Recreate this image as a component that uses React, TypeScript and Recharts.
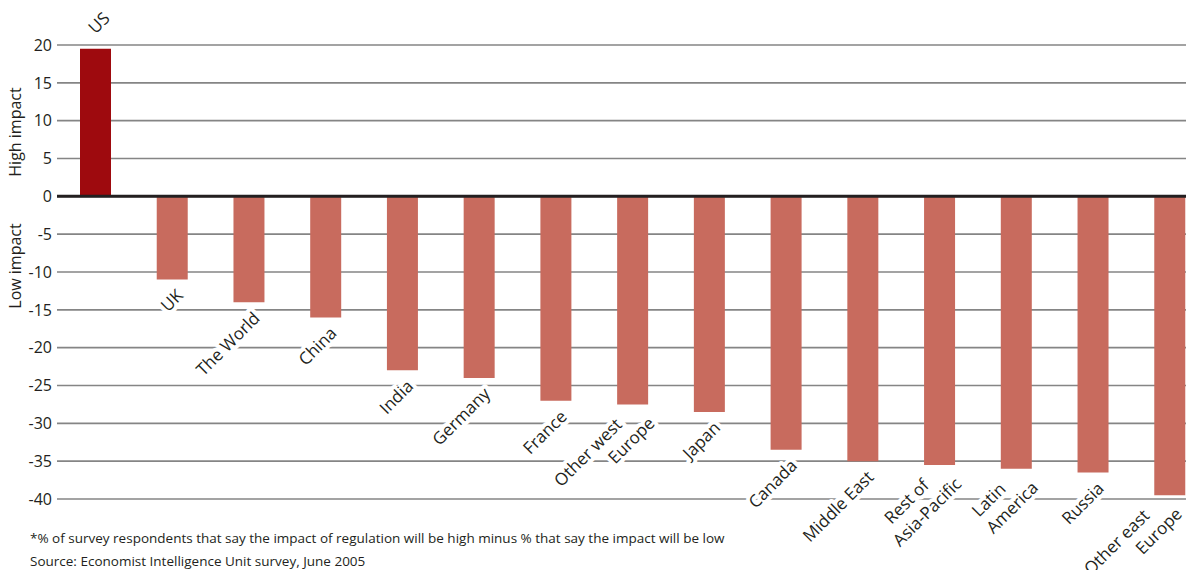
import React from "react";
import { BarChart, Bar, XAxis, YAxis, CartesianGrid, ReferenceLine, LabelList, Cell } from "recharts";

const categories = [
  "US", "UK", "The World", "China", "India", "Germany", "France", "Other west\nEurope",
  "Japan", "Canada", "Middle East", "Rest of\nAsia-Pacific", "Latin\nAmerica", "Russia", "Other east\nEurope",
];
const values = [19.5, -11, -14, -16, -23, -24, -27, -27.5, -28.5, -33.5, -35, -35.5, -36, -36.5, -39.5];
const yTicks = [-40, -35, -30, -25, -20, -15, -10, -5, 0, 5, 10, 15, 20];
const axisLabels = ["High impact", "Low impact"];
const footnotes = [
  "*% of survey respondents that say the impact of regulation will be high minus % that say the impact will be low",
  "Source: Economist Intelligence Unit survey, June 2005",
];

const data = categories.map((name, i) => ({ name, value: values[i] }));

const FONT = "'Open Sans', 'DejaVu Sans', sans-serif";
const TEXT = "#231f20";
const CHART_W = 1186;

const renderLabel = (props: any) => {
  const vb = props.viewBox || props;
  const { x, y, width, height } = vb;
  const index = props.index;
  const v = values[index];
  const lines = String(categories[index]).split("\n");
  const cx = x + width / 2;
  const top = Math.min(y, y + height);
  const bottom = Math.max(y, y + height);
  const common = {
    fontFamily: FONT,
    fontSize: 17,
    fill: TEXT,
    stroke: "#ffffff",
    strokeWidth: 8,
    strokeLinejoin: "round" as const,
    paintOrder: "stroke",
  };
  if (v >= 0) {
    return (
      <g transform={`translate(${cx}, ${top - 14}) rotate(-45)`}>
        <text x={0} y={0} textAnchor="start" {...common}>{lines[0]}</text>
      </g>
    );
  }
  const n = lines.length;
  const ax = Math.min(n > 1 ? cx + 23 : cx + 12, CHART_W - 3);
  const ay = n > 1 ? bottom + 20 : bottom + 17;
  return (
    <g transform={`translate(${ax}, ${ay}) rotate(-45)`}>
      {lines.map((ln, i) => (
        <text key={i} x={-(n - 1 - i) * 24} y={-(n - 1 - i) * 22} textAnchor="end" {...common}>
          {ln}
        </text>
      ))}
    </g>
  );
};

export default function App() {
  return (
    <div style={{ position: "absolute", left: 0, top: 0, width: CHART_W, height: 570, background: "#fff", overflow: "hidden" }}>
      <BarChart
        width={CHART_W}
        height={570}
        data={data}
        margin={{ top: 45, right: 0, bottom: 71, left: 0 }}
        barCategoryGap={0}
      >
        <CartesianGrid horizontal vertical={false} stroke="#858585" strokeWidth={1.6} />
        <XAxis dataKey="name" hide padding={{ left: 0, right: -22 }} />
        <YAxis
          type="number"
          domain={[-40, 20]}
          ticks={yTicks}
          width={57}
          tickLine={false}
          axisLine={false}
          tickSize={0}
          tickMargin={5}
          interval={0}
          tick={{ fontFamily: FONT, fontSize: 16, fill: TEXT }}
        />
        <Bar dataKey="value" barSize={31} isAnimationActive={false}>
          {data.map((d, i) => (
            <Cell key={i} fill={d.value >= 0 ? "#9e0a0e" : "#c86b5e"} />
          ))}
          <LabelList dataKey="name" content={renderLabel} />
        </Bar>
        <ReferenceLine y={0} stroke={TEXT} strokeWidth={3} />
      </BarChart>
      <svg width={CHART_W} height={570} style={{ position: "absolute", left: 0, top: 0, pointerEvents: "none" }}>
        <text transform="translate(21, 132) rotate(-90)" textAnchor="middle" fontFamily={FONT} fontSize={16} fill={TEXT}>
          {axisLabels[0]}
        </text>
        <text transform="translate(21, 266) rotate(-90)" textAnchor="middle" fontFamily={FONT} fontSize={16} fill={TEXT}>
          {axisLabels[1]}
        </text>
        <text x={30} y={543} fontFamily={FONT} fontSize={13.5} fill={TEXT}>{footnotes[0]}</text>
        <text x={30} y={566} fontFamily={FONT} fontSize={13.5} fill={TEXT}>{footnotes[1]}</text>
      </svg>
    </div>
  );
}
